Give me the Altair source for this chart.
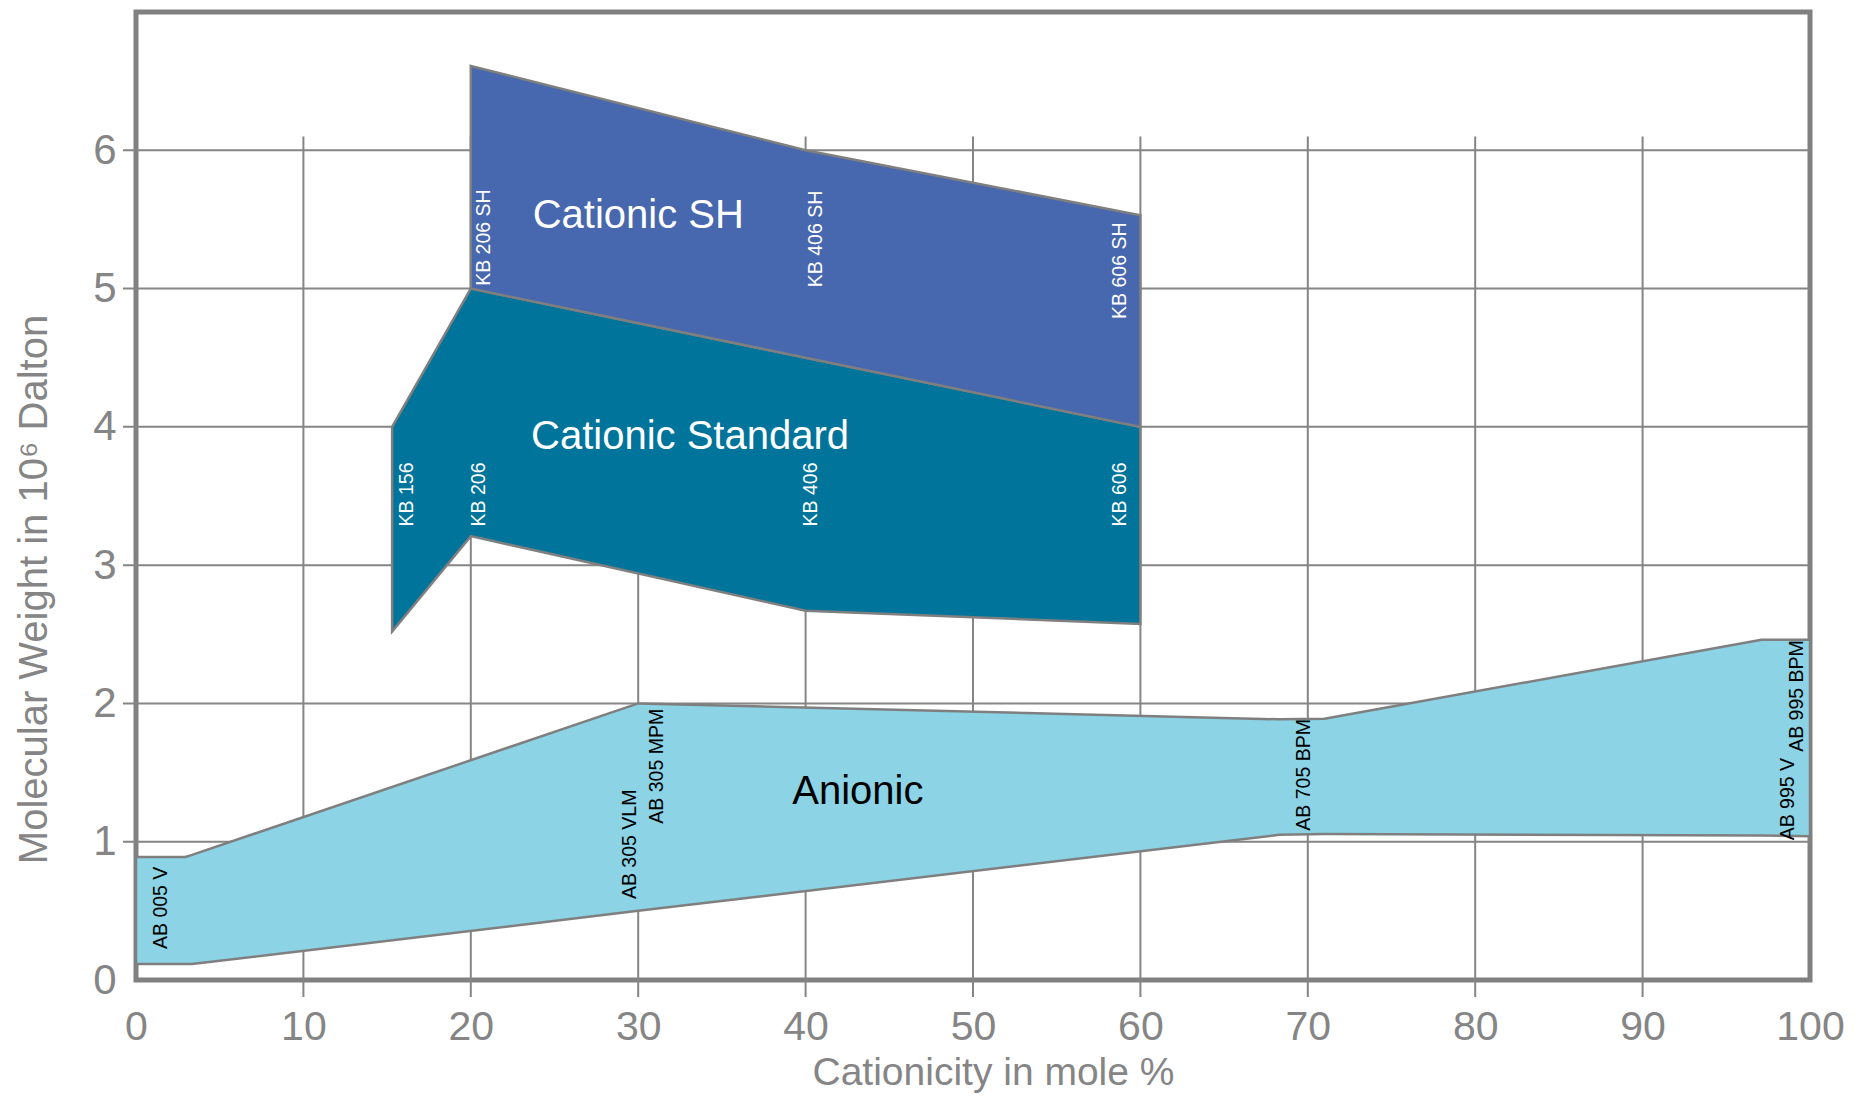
import altair as alt
import pandas as pd

# ---------------- data ----------------
# Anionic range
an_x = [0, 2.95, 3.35, 30, 68.3, 71, 97.1, 100]
an_top = [0.89, 0.89, 0.905, 2.0, 1.885, 1.89, 2.46, 2.46]
an_bot = [0.115, 0.115, 0.115, 0.50, 1.05, 1.055, 1.045, 1.04]

# Cationic Standard range
std_x = [15.3, 20, 40, 60]
std_top = [4.0, 5.0, 4.5, 4.0]
std_bot = [2.52, 3.21, 2.67, 2.575]

# Cationic SH range
sh_x = [20, 40, 60]
sh_top = [6.61, 6.0, 5.53]
sh_bot = [5.0, 4.5, 4.0]

region_names = ["Cationic SH", "Cationic Standard", "Anionic"]
region_x = [23.7, 23.6, 39.2]
region_y = [5.44, 3.84, 1.27]
region_color = ["white", "white", "black"]

prod_names = ["KB 206 SH", "KB 406 SH", "KB 606 SH", "KB 156", "KB 206", "KB 406",
              "KB 606", "AB 005 V", "AB 305 VLM", "AB 305 MPM", "AB 705 BPM",
              "AB 995 V", "AB 995 BPM"]
prod_x = [20.8, 40.6, 58.8, 16.2, 20.5, 40.3, 58.8, 1.5, 29.5, 31.1, 69.8, 98.7, 99.2]
prod_y = [5.02, 5.01, 4.78, 3.28, 3.28, 3.28, 3.28, 0.224, 0.585, 1.13, 1.08, 1.01, 1.65]
prod_color = ["white"] * 7 + ["black"] * 6

x_ticks = [0, 10, 20, 30, 40, 50, 60, 70, 80, 90, 100]
y_ticks = [0, 1, 2, 3, 4, 5, 6]
x_grid = [10, 20, 30, 40, 50, 60, 70, 80, 90]
y_grid = [1, 2, 3, 4, 5, 6]
grid_top = 6.1

# ---------------- layout / style ----------------
W, H = 1674, 968
GRAY = "#858585"
FONT = "Liberation Sans, Arial, sans-serif"

xs = alt.Scale(domain=[0, 100], nice=False, zero=False)
ys = alt.Scale(domain=[0, 7], nice=False, zero=False)

x_axis = alt.Axis(values=x_ticks, ticks=False, domain=False, grid=False,
                  labelFont=FONT, labelFontSize=41, labelColor=GRAY,
                  labelPadding=47, labelBaseline="middle", labelFlush=False,
                  title="Cationicity in mole %", titleFont=FONT, titleFontSize=39,
                  titleFontWeight="normal", titleColor=GRAY, titleX=857, titleY=104,
                  titleBaseline="alphabetic", titleAlign="center")
y_axis = alt.Axis(values=y_ticks, ticks=False, domain=False, grid=False,
                  labelFont=FONT, labelFontSize=42, labelColor=GRAY,
                  labelPadding=20, labelAlign="right", labelBaseline="middle",
                  labelFlush=False,
                  title="Molecular Weight in 10\u2076 Dalton", titleFont=FONT,
                  titleFontSize=40, titleFontWeight="normal", titleColor=GRAY,
                  titleAngle=270, titleX=-102, titleY=577, titleBaseline="middle",
                  titleAlign="center")


def X(field="x"):
    return alt.X(f"{field}:Q", scale=xs, axis=x_axis)


def Y(field="y"):
    return alt.Y(f"{field}:Q", scale=ys, axis=y_axis)


vgrid = alt.Chart(pd.DataFrame({"x": x_grid, "y": [grid_top] * len(x_grid)})).mark_rule(
    color=GRAY, strokeWidth=2).encode(x=X(), y=Y(), y2=alt.value(H + 17))

hgrid = alt.Chart(pd.DataFrame({"y": y_grid})).mark_rule(
    color=GRAY, strokeWidth=2).encode(y=Y(), x=alt.value(-13), x2=alt.value(W))


def region(xv, top, bot, fill):
    df = pd.DataFrame({"x": xv, "y": top, "y2": bot})
    return alt.Chart(df).mark_area(fill=fill, stroke="#7f7f7f", strokeWidth=2.5,
                                   opacity=1).encode(
        x=X(), y=Y(), y2="y2:Q")


anionic = region(an_x, an_top, an_bot, "#8BD3E5")
standard = region(std_x, std_top, std_bot, "#00749A")
sh = region(sh_x, sh_top, sh_bot, "#4767AE")

region_text = alt.Chart(pd.DataFrame({"x": region_x, "y": region_y, "t": region_names,
                                      "c": region_color})).mark_text(
    font=FONT, fontSize=40, align="left", baseline="alphabetic").encode(
    x=X(), y=Y(), text="t:N", color=alt.Color("c:N", scale=None))

prod_text = alt.Chart(pd.DataFrame({"x": prod_x, "y": prod_y, "t": prod_names,
                                    "c": prod_color})).mark_text(
    font=FONT, fontSize=19.5, angle=270, align="left", baseline="middle").encode(
    x=X(), y=Y(), text="t:N", color=alt.Color("c:N", scale=None))

chart = alt.layer(vgrid, hgrid, anionic, standard, sh, region_text, prod_text).properties(
    width=W, height=H,
    autosize=alt.AutoSizeParams(type="none"),
    padding={"left": 128, "top": 4, "right": 46, "bottom": 120},
).configure_view(stroke="#808080", strokeWidth=5)

chart.save("out.html", embed_options={"renderer": "svg", "actions": False})
